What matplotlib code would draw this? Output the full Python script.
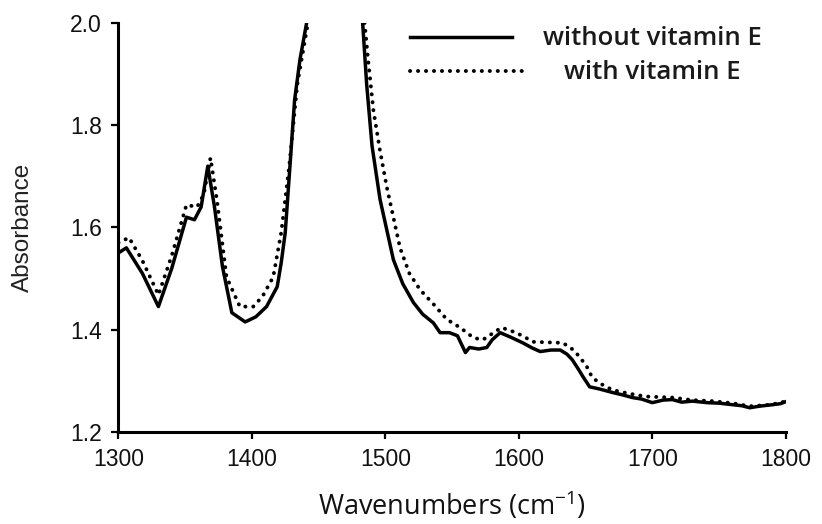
import matplotlib
matplotlib.use("Agg")
import matplotlib.pyplot as plt

# FTIR absorbance, 1300-1800 cm-1 (main band runs off the top of the axis)
wn_plain = [1300, 1306, 1318, 1330, 1340, 1351, 1357, 1362, 1367, 1372, 1378, 1385,
            1395, 1403, 1411, 1419, 1422, 1425, 1428, 1432, 1436, 1441, 1450, 1462,
            1475, 1483, 1486, 1490, 1496, 1506, 1513, 1521, 1528, 1536, 1541, 1548,
            1554, 1560, 1563, 1570, 1576, 1580, 1586, 1594, 1603, 1610, 1616, 1624,
            1631, 1636, 1640, 1644, 1648, 1653, 1660, 1670, 1678, 1685, 1692, 1700,
            1708, 1715, 1722, 1730, 1741, 1750, 1760, 1767, 1773, 1780, 1790, 1796, 1800]
abs_plain = [1.550, 1.560, 1.510, 1.445, 1.520, 1.620, 1.615, 1.640, 1.720, 1.640, 1.523, 1.433,
             1.415, 1.425, 1.445, 1.484, 1.531, 1.590, 1.700, 1.849, 1.928, 2.000, 2.300, 2.600,
             2.300, 2.000, 1.880, 1.760, 1.655, 1.537, 1.490, 1.453, 1.430, 1.413, 1.394, 1.394,
             1.388, 1.355, 1.365, 1.362, 1.365, 1.380, 1.394, 1.385, 1.374, 1.364, 1.357, 1.360,
             1.360, 1.352, 1.341, 1.325, 1.308, 1.288, 1.284, 1.277, 1.272, 1.267, 1.264, 1.257,
             1.262, 1.263, 1.258, 1.260, 1.257, 1.256, 1.253, 1.251, 1.247, 1.250, 1.253, 1.255,
             1.259]

wn_vitE = [1300, 1308, 1318, 1330, 1340, 1351, 1359, 1364, 1369, 1374, 1381, 1391,
           1401, 1408, 1416, 1422, 1428, 1434, 1442, 1450, 1462, 1475, 1483, 1487,
           1491, 1496, 1501, 1511, 1518, 1526, 1536, 1546, 1556, 1566, 1573, 1580,
           1587, 1598, 1611, 1622, 1633, 1641, 1646, 1651, 1655, 1662, 1670, 1682,
           1695, 1705, 1715, 1730, 1745, 1760, 1773, 1785, 1795, 1800]
abs_vitE = [1.570, 1.580, 1.535, 1.468, 1.545, 1.644, 1.640, 1.665, 1.736, 1.650, 1.503, 1.445,
            1.445, 1.465, 1.503, 1.590, 1.720, 1.880, 2.000, 2.300, 2.600, 2.300, 2.040, 1.930,
            1.830, 1.750, 1.680, 1.560, 1.510, 1.478, 1.450, 1.420, 1.404, 1.384, 1.380, 1.392,
            1.404, 1.394, 1.376, 1.375, 1.374, 1.360, 1.345, 1.327, 1.306, 1.293, 1.282, 1.275,
            1.269, 1.268, 1.267, 1.262, 1.260, 1.256, 1.250, 1.252, 1.256, 1.260]

x_ticks = [1300, 1400, 1500, 1600, 1700, 1800]
y_ticks = [1.2, 1.4, 1.6, 1.8, 2.0]
series_names = ["without vitamin E", "with vitamin E"]

dotted = (0, (0.05, 2.0))

fig = plt.figure(figsize=(8.22, 5.24), dpi=100)
ax = fig.add_axes([0.144, 0.176, 0.812, 0.78])

ax.plot(wn_plain, abs_plain, color="black", lw=2.5, solid_joinstyle="round")
ax.plot(wn_vitE, abs_vitE, color="black", lw=2.8, linestyle=dotted,
        dash_capstyle="round")

ax.set_xlim(1300, 1800)
ax.set_ylim(1.2, 2.0)
ax.set_xticks(x_ticks)
ax.set_yticks(y_ticks)
ax.set_yticklabels([f"{v:.1f}" for v in y_ticks])

for side in ("top", "right"):
    ax.spines[side].set_visible(False)
for side in ("left", "bottom"):
    ax.spines[side].set_linewidth(2.2)
ax.tick_params(direction="out", length=5, width=1.6, pad=7,
               labelsize=16.5, labelfontfamily="Liberation Sans",
               labelcolor="#111111")

ax.set_ylabel("Absorbance", fontsize=17.5, family="Liberation Sans",
              labelpad=26, color="#222222")
ax.set_xlabel("Wavenumbers (cm$^{\\mathregular{-1}}$)", fontsize=19.5,
              family="Open Sans", labelpad=13, color="#111111")

# hand-made key: sample line on the left, label centred to its right
ax.plot([0.437, 0.590], [0.966, 0.966], transform=ax.transAxes, color="black",
        lw=2.5, clip_on=False)
ax.plot([0.437, 0.606], [0.883, 0.883], transform=ax.transAxes, color="black",
        lw=2.8, linestyle=dotted, dash_capstyle="round", clip_on=False)
ax.text(0.800, 0.963, series_names[0], transform=ax.transAxes, ha="center",
        va="center", fontsize=18.5, family="Open Sans", weight="semibold",
        color="#1a1a1a")
ax.text(0.800, 0.880, series_names[1], transform=ax.transAxes, ha="center",
        va="center", fontsize=18.5, family="Open Sans", weight="semibold",
        color="#1a1a1a")

fig.savefig("out.png", dpi=100)
